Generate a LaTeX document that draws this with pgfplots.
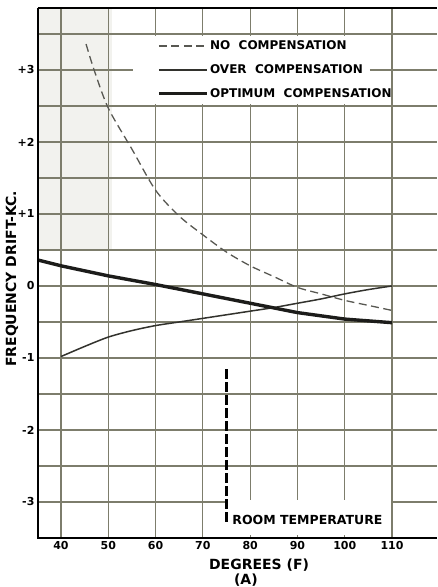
\documentclass[border=0pt]{standalone}
\usepackage{pgfplots}
\pgfplotsset{compat=1.18}
\usepackage{fontspec}
\setmainfont{DejaVu Sans}
\definecolor{gridc}{RGB}{125,125,108}
\definecolor{dashc}{RGB}{88,88,82}
\definecolor{thinc}{RGB}{50,50,45}
\definecolor{thickc}{RGB}{28,28,26}
\definecolor{shadec}{RGB}{242,242,238}
\begin{document}
\begin{tikzpicture}[font=\bfseries]
\begin{axis}[name=ax, set layers, scale only axis, clip mode=individual,
  width=399pt, height=530pt,
  xmin=35.14, xmax=119.5, ymin=-3.5, ymax=3.86,
  axis line style={draw=none}, tick style={draw=none},
  xtick={40,50,...,110}, xticklabels={40,50,60,70,80,90,100,110},
  ytick={-3,...,3}, yticklabels={-3,-2,-1,0,+1,+2,+3},
  minor ytick={-2.5,-1.5,...,3.5},
  grid=both,
  major grid style={line width=1.2pt, color=gridc},
  minor grid style={line width=1.2pt, color=gridc},
  ticklabel style={font=\bfseries\fontsize{11}{12}\selectfont},
  legend image code/.code={\draw[#1] (0pt,0pt) -- (48pt,0pt);},
  legend cell align=left,
  legend style={draw=none, fill=none, at={(axis cs:60.3,3.43)}, anchor=north west,
    inner sep=0pt, row sep=10.5pt, font=\bfseries\fontsize{12}{13}\selectfont,
    nodes={inner sep=1.5pt}},
]
\begin{pgfonlayer}{axis background}
\fill[shadec] (axis cs:35.14,0.5) rectangle (axis cs:50.8,3.86);
\end{pgfonlayer}
\fill[white] (axis cs:55.3,2.53) rectangle (axis cs:109.7,3.47);
\draw[line width=1.2pt, gridc] (axis cs:105.3,3) -- (axis cs:119.5,3);
\fill[white] (axis cs:75.2,-2.97) rectangle (axis cs:109.7,-3.46);

\addplot[draw=dashc, line width=1.3pt, dash pattern=on 8pt off 4.5pt, smooth]
  coordinates {(45.3,3.36)(47,3.0)(50,2.47)(55,1.9)(60,1.33)(65,0.97)(70,0.71)(75,0.47)(80,0.28)(85,0.13)(90,-0.02)(95,-0.11)(100,-0.2)(105,-0.27)(110,-0.34)};
\addlegendentry{NO\ \ COMPENSATION}
\addplot[draw=thinc, line width=1.5pt, smooth]
  coordinates {(40,-0.98)(45,-0.84)(50,-0.71)(55,-0.62)(60,-0.55)(65,-0.5)(70,-0.45)(75,-0.4)(80,-0.35)(85,-0.3)(90,-0.24)(95,-0.18)(100,-0.11)(105,-0.05)(110,0.0)};
\addlegendentry{OVER\ \ COMPENSATION}
\addplot[draw=thickc, line width=3.4pt]
  coordinates {(35.14,0.36)(40,0.28)(50,0.14)(60,0.02)(70,-0.11)(80,-0.24)(90,-0.37)(100,-0.46)(110,-0.51)};
\addlegendentry{OPTIMUM\ \ COMPENSATION}
\addplot[forget plot, black, line width=2.6pt, dash pattern=on 10pt off 3pt]
  coordinates {(75,-1.16)(75,-3.31)};
\node[anchor=west, font=\bfseries\fontsize{12.5}{13}\selectfont] at (axis cs:75.5,-3.25) {ROOM\ TEMPERATURE};

\begin{pgfonlayer}{axis foreground}
\draw[line width=2.6pt, black] (rel axis cs:0,1) -- (rel axis cs:0,0) -- (rel axis cs:1,0);
\draw[line width=1.8pt, black] (rel axis cs:0,1) -- (rel axis cs:1,1);
\end{pgfonlayer}
\node[rotate=90, font=\bfseries\fontsize{14}{15}\selectfont] at (axis description cs:-0.065,0.489) {FREQUENCY DRIFT-KC.};
\node[font=\bfseries\fontsize{14}{15}\selectfont] at (axis description cs:0.554,-0.051) {DEGREES (F)};
\node[font=\bfseries\fontsize{14}{15}\selectfont] at (axis description cs:0.521,-0.079) {(A)};
\end{axis}
\pgfresetboundingbox
\path ([xshift=-38pt,yshift=-49pt]ax.south west) rectangle ([yshift=8pt]ax.north east);
\end{tikzpicture}
\end{document}
